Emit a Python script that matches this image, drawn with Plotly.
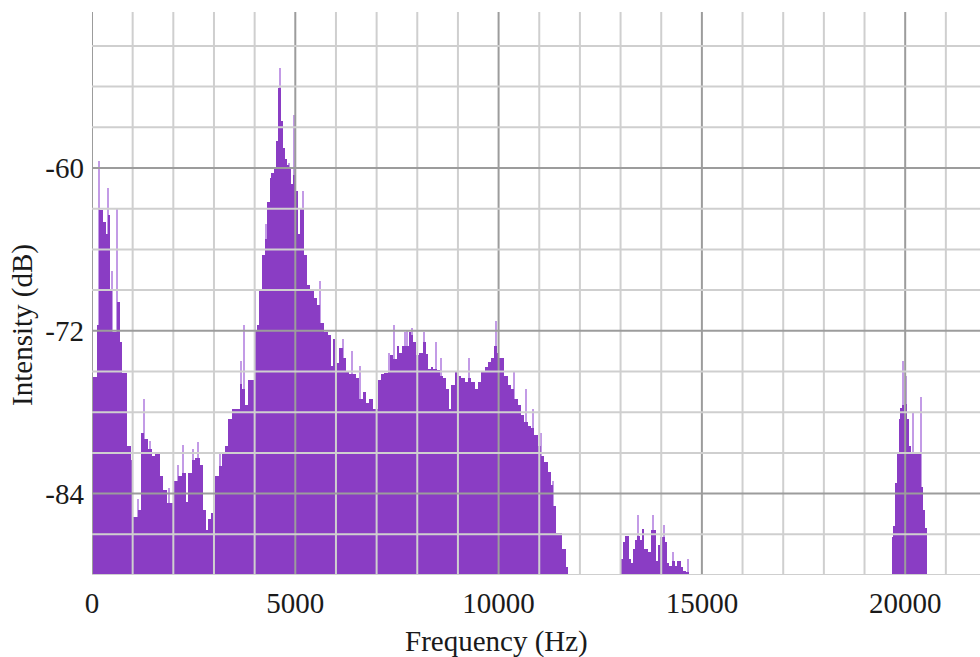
import plotly.graph_objects as go

FLOOR_DB = -90.0

# Spectrum body: each entry starts a flat segment that runs to the next start.
# The last start only closes the final segment.
body_start_hz = [
    0, 115, 172, 279, 336, 390, 451, 500, 607, 689, 730, 853, 959, 1017, 1123,
    1205, 1287, 1386, 1468, 1550, 1673, 1755, 1837, 2025, 2124, 2206, 2321, 2370,
    2452, 2534, 2657, 2739, 2796, 2862, 2927, 3026, 3124, 3190, 3272, 3354, 3436,
    3641, 3698, 3764, 3838, 4000, 4060, 4110, 4180, 4245, 4310, 4368, 4425, 4474,
    4531, 4572, 4654, 4694, 4752, 4800, 4833, 4882, 4940, 4997, 5062, 5127, 5226,
    5291, 5373, 5454, 5536, 5618, 5716, 5814, 5880, 5920, 6002, 6083, 6165, 6247,
    6328, 6410, 6492, 6574, 6655, 6737, 6819, 6900, 7023, 7105, 7186, 7268, 7333,
    7415, 7497, 7554, 7636, 7717, 7799, 7840, 7902, 7967, 8049, 8130, 8212, 8269,
    8326, 8391, 8473, 8554, 8636, 8717, 8782, 8839, 8921, 9002, 9084, 9165, 9247,
    9328, 9410, 9491, 9573, 9654, 9736, 9817, 9899, 9956, 10005, 10143, 10225,
    10306, 10388, 10469, 10551, 10632, 10714, 10795, 10877, 10958, 11040, 11121,
    11203, 11285, 11342, 11407, 11570, 11651, 11716,
    13016, 13073, 13114, 13211, 13260, 13317, 13374, 13423, 13472, 13520, 13569,
    13683, 13748, 13862, 13927, 13967, 14089, 14130, 14187, 14268, 14333, 14398,
    14480, 14537, 14618, 14683,
    19667, 19724, 19765, 19807, 19848, 19889, 19930, 19971, 20012, 20053, 20095,
    20136, 20284, 20342, 20399, 20448, 20481, 20531,
]
body_level_db = [
    -75.4, -71.6, -63.1, -64.0, -64.9, -63.5, -68.9, -72.1, -69.9, -72.8, -75.1,
    -80.5, -81.5, -85.7, -85.2, -79.5, -80.0, -80.7, -81.2, -81.1, -82.7, -83.7,
    -84.7, -83.1, -82.7, -82.5, -84.6, -82.5, -81.5, -81.4, -81.9, -85.2, -86.7,
    -85.9, -85.4, -82.7, -82.0, -81.0, -80.5, -78.5, -77.8, -75.9, -76.3, -77.5,
    -75.6, -72.0, -71.6, -69.1, -66.4, -65.2, -62.5, -60.7, -60.4, -60.0, -58.0,
    -54.1, -56.5, -58.5, -59.3, -59.8, -60.0, -61.2, -60.5, -61.7, -64.9, -63.0,
    -66.4, -68.6, -69.1, -69.6, -70.1, -71.4, -72.1, -72.3, -74.6, -72.6, -74.4,
    -73.3, -74.0, -75.0, -75.2, -75.2, -75.5, -77.0, -76.5, -77.3, -77.0, -77.8,
    -75.6, -75.2, -75.1, -75.0, -73.8, -74.1, -73.1, -73.6, -73.1, -73.1, -72.1,
    -72.3, -72.8, -73.8, -73.6, -72.8, -73.7, -74.8, -74.7, -74.8, -74.9, -75.3,
    -75.5, -76.3, -77.8, -76.0, -75.0, -75.3, -75.5, -75.8, -75.5, -75.8, -76.3,
    -75.8, -75.0, -74.7, -74.3, -74.0, -73.1, -73.6, -74.0, -75.3, -76.0, -76.3,
    -77.0, -77.5, -78.2, -78.7, -79.0, -79.2, -79.7, -80.5, -81.2, -81.7, -82.4,
    -83.4, -84.9, -86.9, -88.1, -89.4, FLOOR_DB,
    -88.8, -87.6, -87.1, -88.8, -89.1, -88.1, -87.4, -87.1, -87.4, -86.6, -88.1,
    -88.3, -86.7, -89.0, -87.8, -87.2, -87.6, -89.1, -89.3, -89.0, -89.3, -89.0,
    -89.4, -89.7, -89.8, FLOOR_DB,
    -87.2, -86.4, -83.2, -81.1, -78.5, -77.7, -77.5, -78.0, -77.4, -78.5, -80.5,
    -81.0, -80.9, -81.0, -83.5, -85.2, -86.5, FLOOR_DB,
]

# Single-bin peaks that stand above the body
peak_hz = [
    180, 390, 500, 607, 1123, 1287, 1427, 1900, 2107, 2239, 2480, 2616, 3149,
    3660, 3745, 4010, 4280, 4630, 4850, 4960, 5200, 5600, 6165, 6386, 6598,
    7309, 7431, 7698, 7758, 7861, 8163, 8473, 8595, 9271, 9940, 10388, 10673,
    10860, 11040, 11342, 13423, 13789, 14073, 14292, 14658, 19946, 20012,
    20193, 20383,
]
peak_db = [
    -59.5, -61.5, -67.6, -63.0, -84.4, -77.0, -80.1, -83.6, -81.9, -80.4, -80.7,
    -80.2, -81.0, -74.2, -71.6, -68.9, -64.1, -52.6, -59.6, -56.1, -61.7, -68.3,
    -72.6, -73.5, -74.6, -73.6, -71.6, -72.1, -72.0, -71.8, -72.1, -72.8, -74.0,
    -74.0, -71.3, -75.0, -76.3, -77.8, -79.5, -83.1, -85.6, -85.6, -86.3, -88.3,
    -88.8, -74.2, -75.3, -78.0, -76.9,
]

x_tick_vals = [0, 5000, 10000, 15000, 20000]
y_tick_vals = [-60, -72, -84]
y_tick_text = ["-60", "-72", "-84"]

X_MAX = 21840
Y_MAX = -48.5
PURPLE = "#8a3dc4"
PURPLE_LIGHT = "#c39be6"
GRID_MINOR = "#cfcfcf"
GRID_MAJOR = "#9c9c9c"
FONT = "Liberation Serif"
TEXT = "#1a1a1a"
FONT_SIZE = 29

seg_width = [b - a for a, b in zip(body_start_hz[:-1], body_start_hz[1:])]

fig = go.Figure()

fig.add_trace(go.Bar(
    x=peak_hz,
    y=[p - FLOOR_DB for p in peak_db],
    base=FLOOR_DB,
    width=30,
    offset=-15,
    marker=dict(color=PURPLE_LIGHT, line=dict(width=0)),
    hoverinfo="skip",
))

fig.add_trace(go.Bar(
    x=body_start_hz[:-1],
    y=[v - FLOOR_DB for v in body_level_db[:-1]],
    base=FLOOR_DB,
    width=seg_width,
    offset=0,
    marker=dict(color=PURPLE, line=dict(width=0)),
    hoverinfo="skip",
))

# Grid drawn on top of the spectrum
shapes = []
for f in range(0, X_MAX + 1, 1000):
    shapes.append(dict(
        type="line", xref="x", yref="paper", x0=f, x1=f, y0=0, y1=1,
        line=dict(color=GRID_MAJOR if f % 5000 == 0 else GRID_MINOR, width=2),
        layer="above",
    ))
for d in range(-90, int(Y_MAX), 3):
    shapes.append(dict(
        type="line", xref="paper", yref="y", x0=0, x1=1, y0=d, y1=d,
        line=dict(color=GRID_MAJOR if d % 12 == 0 else GRID_MINOR, width=2),
        layer="above",
    ))

# Axis titles
annotations = [
    dict(text="Frequency (Hz)", xref="paper", yref="paper", x=0.456, y=-0.119,
         xanchor="center", yanchor="middle", showarrow=False,
         font=dict(family=FONT, size=FONT_SIZE, color=TEXT)),
    dict(text="Intensity (dB)", xref="paper", yref="paper", x=-0.079, y=0.444,
         xanchor="center", yanchor="middle", showarrow=False, textangle=-90,
         font=dict(family=FONT, size=FONT_SIZE, color=TEXT)),
]

fig.update_layout(
    width=980,
    height=657,
    margin=dict(l=92, r=0, t=12, b=82),
    paper_bgcolor="white",
    plot_bgcolor="white",
    barmode="overlay",
    bargap=0,
    showlegend=False,
    shapes=shapes,
    annotations=annotations,
    font=dict(family=FONT, size=FONT_SIZE, color=TEXT),
    xaxis=dict(
        range=[0, X_MAX],
        tickvals=x_tick_vals,
        tickformat="d",
        showgrid=False,
        zeroline=False,
        showline=False,
        ticks="",
        ticklabelstandoff=8,
    ),
    yaxis=dict(
        range=[FLOOR_DB, Y_MAX],
        tickvals=y_tick_vals,
        ticktext=y_tick_text,
        showgrid=False,
        zeroline=False,
        showline=False,
        ticks="",
        ticklabelstandoff=7,
    ),
)

fig.write_html("out.html")
